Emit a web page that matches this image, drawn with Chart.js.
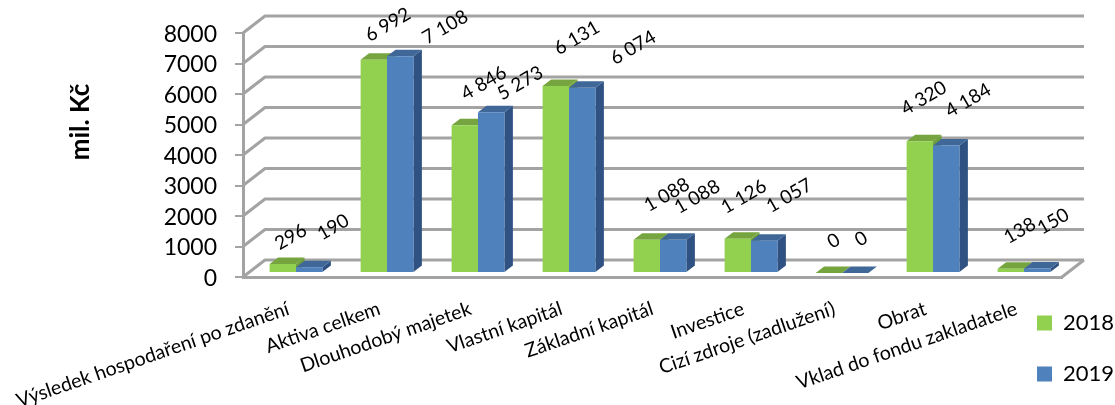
<!DOCTYPE html>
<html lang="cs">
<head>
<meta charset="utf-8">
<title>Graf</title>
<script src="https://cdn.jsdelivr.net/npm/chart.js@4"></script>
<style>
    html, body { margin: 0; padding: 0; background: #fff; }
    #wrap { position: relative; width: 1115px; height: 405px; }
</style>
</head>
<body>
<div id="wrap"><canvas id="graf"></canvas></div>
<script>
const kategorie = [
    'Výsledek hospodaření po zdanění',
    'Aktiva celkem',
    'Dlouhodobý majetek',
    'Vlastní kapitál',
    'Základní kapitál',
    'Investice',
    'Cizí zdroje (zadlužení)',
    'Obrat',
    'Vklad do fondu zakladatele'
];
const hodnoty2018 = [296, 6992, 4846, 6131, 1088, 1126, 0, 4320, 138];
const hodnoty2019 = [190, 7108, 5273, 6074, 1088, 1057, 0, 4184, 150];
const osaTitulek = 'mil. Kč';

// --- Styl ---
const PISMO = 'Lato, "Open Sans", sans-serif';
const SEDA = '#a3a3a3';
const HLOUBKA_X = 22, HLOUBKA_Y = 17;    // zadni stena grafu
const SLOUPEC_X = 8.5, SLOUPEC_Y = 6.5;  // hloubka sloupce
const POSUN_X = 7.5, POSUN_Y = 4;        // sloupce stoji kousek za prednim okrajem podlahy
const barvy = [
    { predek: '#92d050', bok: '#6f9e3c', vrch: '#76a53f' },
    { predek: '#4f81bd', bok: '#2f5283', vrch: '#3f6797' }
];
// popisky jsou v originale posunute rucne, tady odsazeni od vrchu sloupce
const odsazeni = [
    [[8, -27], [14, -35], [19, -42], [21, -48], [20, -45], [6, -42], [5, -32], [4, -43], [9, -38]],
    [[24, -40], [45, -29], [29, -29], [51, -40], [24, -43], [25, -45], [6, -34], [22, -45], [16, -47]]
];

function cislo(v) {
    return String(v).replace(/\B(?=(\d{3})+$)/g, ' ');
}

function plocha(ctx, body, barva) {
    ctx.fillStyle = barva;
    ctx.beginPath();
    body.forEach((b, i) => i ? ctx.lineTo(b[0], b[1]) : ctx.moveTo(b[0], b[1]));
    ctx.closePath();
    ctx.fill();
}

const prostor3d = {
    id: 'prostor3d',
    afterLayout(chart) {
        // legenda vpravo dole mimo plochu grafu
        const lg = chart.legend;
        lg.left = 1008; lg.right = 1115; lg.top = 283; lg.bottom = 600;
    },
    beforeDatasetsDraw(chart) {
        const { ctx, chartArea: a, scales: { y } } = chart;
        ctx.save();
        ctx.strokeStyle = SEDA;
        ctx.lineWidth = 3;
        ctx.lineJoin = 'round';
        y.ticks.forEach(t => {
            const py = y.getPixelForValue(t.value);
            ctx.beginPath();
            ctx.moveTo(a.left, py);
            ctx.lineTo(a.left + HLOUBKA_X, py - HLOUBKA_Y);
            ctx.lineTo(a.right + HLOUBKA_X, py - HLOUBKA_Y);
            ctx.stroke();
        });
        ctx.beginPath();
        ctx.moveTo(a.right, a.bottom);
        ctx.lineTo(a.right + HLOUBKA_X, a.bottom - HLOUBKA_Y);
        ctx.stroke();

        // boky a vrchy sloupcu, predni steny kresli Chart.js pres ne
        ctx.translate(POSUN_X, -POSUN_Y);
        chart.data.datasets.forEach((ds, i) => {
            chart.getDatasetMeta(i).data.forEach(bar => {
                const p = bar.getProps(['x', 'y', 'base', 'width'], true);
                const l = p.x - p.width / 2, r = p.x + p.width / 2;
                plocha(ctx, [[r, p.y], [r + SLOUPEC_X, p.y - SLOUPEC_Y], [r + SLOUPEC_X, p.base - SLOUPEC_Y], [r, p.base]], barvy[i].bok);
                plocha(ctx, [[l, p.y], [l + SLOUPEC_X, p.y - SLOUPEC_Y], [r + SLOUPEC_X, p.y - SLOUPEC_Y], [r, p.y]], barvy[i].vrch);
            });
        });
    },
    afterDatasetsDraw(chart) {
        const { ctx } = chart;
        ctx.restore();

        ctx.save();
        ctx.fillStyle = '#000';
        ctx.font = '19px ' + PISMO;
        ctx.textAlign = 'center';
        ctx.textBaseline = 'middle';
        chart.data.datasets.forEach((ds, i) => {
            chart.getDatasetMeta(i).data.forEach((bar, j) => {
                const p = bar.getProps(['x', 'y'], true);
                ctx.save();
                ctx.translate(p.x + POSUN_X + odsazeni[i][j][0], p.y - POSUN_Y + odsazeni[i][j][1]);
                ctx.rotate(-30 * Math.PI / 180);
                ctx.fillText(cislo(ds.data[j]), 0, 0);
                ctx.restore();
            });
        });

        ctx.translate(81, 122);
        ctx.rotate(-Math.PI / 2);
        ctx.font = 'bold 26px ' + PISMO;
        ctx.fillText(osaTitulek, 0, 0);
        ctx.restore();
    }
};

new Chart(document.getElementById('graf'), {
    type: 'bar',
    data: {
        labels: kategorie,
        datasets: [
            { label: '2018', data: hodnoty2018, backgroundColor: barvy[0].predek, clip: false },
            { label: '2019', data: hodnoty2019, backgroundColor: barvy[1].predek, clip: false }
        ]
    },
    options: {
        responsive: true,
        maintainAspectRatio: false,
        animation: false,
        layout: { padding: { top: 33, right: 53, left: 0, bottom: 0 } },
        datasets: { bar: { barPercentage: 1, categoryPercentage: 0.58 } },
        plugins: {
            tooltip: { enabled: false },
            legend: {
                position: 'chartArea',
                align: 'start',
                labels: {
                    boxWidth: 15,
                    boxHeight: 15,
                    padding: 29,
                    color: '#000',
                    font: { family: PISMO, size: 22 }
                }
            }
        },
        scales: {
            x: {
                afterFit(scale) {
                    // dlouhy prvni popisek nesmi posouvat plochu grafu doprava
                    scale.height = 128;
                    scale.paddingLeft = 0;
                    scale.paddingRight = 0;
                },
                grid: { display: true, drawOnChartArea: false, drawTicks: false },
                border: { color: SEDA, width: 3 },
                ticks: {
                    autoSkip: false,
                    minRotation: 19,
                    maxRotation: 19,
                    padding: 20,
                    color: '#000',
                    font: { family: PISMO, size: 19.6 }
                }
            },
            y: {
                min: 0,
                max: 8000,
                afterFit(scale) { scale.width = 243; },
                grid: { drawOnChartArea: false, color: SEDA, lineWidth: 2, tickLength: 8 },
                border: { color: SEDA, width: 3 },
                ticks: {
                    autoSkip: false,
                    stepSize: 1000,
                    padding: 18,
                    labelOffset: 1.5,
                    color: '#000',
                    font: { family: PISMO, size: 23 },
                    callback: v => String(v)
                }
            }
        }
    },
    plugins: [prostor3d]
});
</script>
</body>
</html>
